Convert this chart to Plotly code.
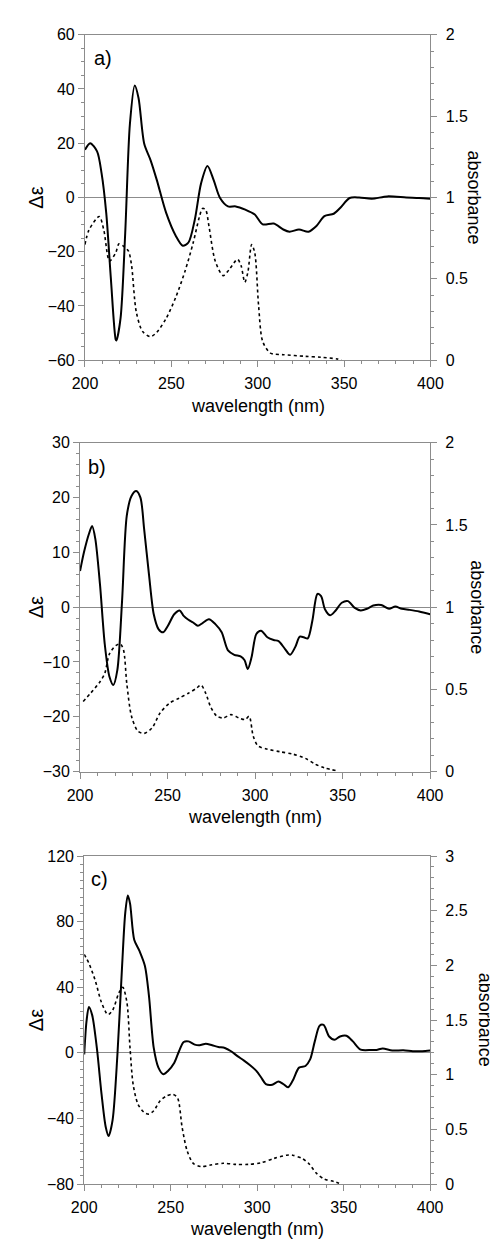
import plotly.graph_objects as go

# ---------------- data ----------------
# panel a) CD (Δε) and absorbance
wl_a_cd = [200, 203, 207, 209.6, 212.3, 215, 217.8, 218.2, 220.6, 223.3, 226, 228.8, 231, 234.3, 238,
           241.6, 247, 252.6, 256.6, 259.9, 263.6, 267.2, 270.9, 274.5, 278.2, 282.8, 287.3, 292.8,
           298.3, 302.9, 309.3, 314.8, 318.4, 323.9, 329.4, 334, 338.6, 344, 347.7, 353.2, 358.7,
           366, 375, 386, 393.4, 400]
cd_a = [17.6, 20, 17, 9, -5.7, -30, -52.4, -52.7, -44.5, -13, 27, 41.3, 36.7, 19.8, 13.7,
        6.4, -5.7, -14.2, -17.8, -16.6, -8.1, 5.2, 11.6, 6.4, -0.2, -3.3, -3.3, -4.5,
        -6.3, -9.9, -9.6, -11.8, -12.6, -11.8, -12.6, -10.5, -6.9, -6.0, -3.9, -0.2, 0,
        -0.5, 0.4, 0, -0.2, -0.5]
wl_a_abs = [200, 202.3, 208.3, 210.9, 214.2, 217.8, 219.7, 222.4, 225.2, 227, 229.7, 233.4, 238,
            241.6, 247, 252.6, 258, 262.6, 266.3, 268.1, 269.9, 271.8, 275.4, 280, 283.7, 288.3,
            290.4, 292.5, 294.3, 296.5, 298.3, 300.5, 302.9, 307.4, 314.8, 327.6, 336.7, 345.9, 348.6]
abs_a = [0.711, 0.80, 0.883, 0.80, 0.61, 0.66, 0.715, 0.70, 0.67, 0.58, 0.297, 0.176, 0.145,
         0.172, 0.257, 0.388, 0.55, 0.72, 0.883, 0.933, 0.923, 0.822, 0.61, 0.52, 0.56, 0.62,
         0.58, 0.479, 0.54, 0.711, 0.66, 0.337, 0.115, 0.044, 0.034, 0.024, 0.018, 0.008, 0.002]

# panel b)
wl_b_cd = [200, 202.3, 205.1, 206.9, 208.7, 211.4, 214.1, 216.8, 219, 221.3, 224, 226.7, 229.4,
           232.1, 234.5, 236.6, 239.4, 242.1, 244.8, 247.5, 250.2, 253.8, 256.9, 259.2, 261.9,
           264.6, 267.3, 270, 273.6, 277.3, 280.9, 284.5, 288.1, 291.7, 294, 295.8, 298, 300.7,
           303.4, 307, 310.6, 313.4, 317, 320, 322.9, 325.5, 327.8, 330.1, 332.7, 335.6, 337.7,
           339.9, 342.8, 345.8, 349.5, 353.1, 356.7, 360.3, 363.9, 367.5, 372, 376.5, 380.1,
           383.8, 388.3, 393.7, 400]
cd_b = [6.6, 10.1, 13.4, 14.8, 12.5, 4.1, -6.7, -12.7, -14.2, -11.5, 1.1, 16.7, 20.3,
        21.2, 20, 14.3, 5.9, -1.3, -4, -4.6, -3.4, -1.3, -0.6, -1.6, -2.3,
        -2.8, -3.4, -2.9, -2.2, -3.1, -4.6, -7.9, -8.7, -9, -9.7, -11.3, -9.1, -4.9,
        -4.3, -5.5, -6, -6.2, -7.6, -8.7, -7.3, -5.4, -5.5, -5.7, -2.5, 2.4, 2.0,
        -0.4, -1.5, -0.7, 0.8, 1.1, -0.1, -0.6, -0.3, 0.3, 0.4, -0.3, 0.1,
        -0.3, -0.5, -0.8, -1.3]
wl_b_abs = [201.8, 206, 211.4, 214.1, 216.8, 220.4, 223.1, 224.9, 226.7, 229.4, 233, 236.6, 241.2,
            245.7, 251.1, 256.5, 261.9, 266.4, 269.1, 271.8, 274.5, 278.2, 281.8, 286.3, 290.8,
            294.4, 296.6, 298.9, 301.6, 307, 314.3, 321.5, 328.7, 334.1, 339.5, 346.8]
abs_b = [0.426, 0.476, 0.546, 0.596, 0.716, 0.766, 0.776, 0.736, 0.536, 0.336, 0.246, 0.232, 0.266,
         0.356, 0.416, 0.446, 0.476, 0.506, 0.526, 0.476, 0.396, 0.336, 0.326, 0.346, 0.326,
         0.316, 0.336, 0.216, 0.156, 0.136, 0.12, 0.106, 0.08, 0.046, 0.022, 0.004]

# panel c)
wl_c_cd = [200, 201.3, 202.7, 204.6, 207.3, 210, 212.4, 214.1, 216.4, 219.2, 221.9, 223.7, 225.2,
           226.5, 228.9, 232, 235.1, 237.4, 240.2, 242.9, 245.7, 248.4, 252.1, 254.8, 257.5,
           260.3, 263.9, 266.7, 270.3, 274, 277.6, 281.3, 284.9, 288.6, 292.2, 295.9, 299.5,
           302.3, 305, 308.7, 312.3, 315.1, 317.8, 320.5, 324.2, 327.9, 330.6, 333.3, 336.1,
           338.4, 341.6, 344.7, 347.9, 351.6, 355.3, 359.8, 366.2, 369, 372.6, 378.1, 384.5,
           390, 395.4, 400]
cd_c = [-1, 19, 28, 23, 3, -25, -45, -50.7, -41, -1, 53, 85, 96,
        91, 69, 62, 53, 35, 3, -9, -13, -11, -6, 1, 6.6,
        7, 5, 4.6, 5.6, 4.6, 3.6, 3, 1, -2, -4.6, -7.6, -11,
        -15, -19, -19.4, -17.4, -19, -21, -17, -9, -8, -4, 7, 16.6,
        17, 10, 8, 10, 10.4, 7, 2, 1.8, 1.8, 2.6, 1.4, 1.6,
        1, 1, 1.4]
wl_c_abs = [200, 202.7, 206.4, 210, 213.7, 216.4, 220.1, 222.3, 224.7, 226.5, 228.3, 231.1, 234.7,
            237.4, 240.2, 243.8, 247.5, 251.1, 253.9, 256.6, 259.4, 263, 267.6, 273.1, 280.4,
            287.7, 295, 302.3, 309.6, 316.9, 320.5, 326, 329.7, 334.2, 338.8, 344.3, 348.9]
abs_c = [2.10, 2.02, 1.86, 1.66, 1.55, 1.59, 1.75, 1.80, 1.66, 1.24, 0.91, 0.73, 0.655,
         0.64, 0.67, 0.76, 0.805, 0.82, 0.79, 0.52, 0.31, 0.19, 0.16, 0.174, 0.19,
         0.18, 0.18, 0.195, 0.234, 0.264, 0.264, 0.234, 0.19, 0.1, 0.045, 0.024, 0.0]

panel_labels = ["a)", "b)", "c)"]
x_title = "wavelength (nm)"
y_title = "Δε"
y2_title = "absorbance"
x_ticks = [200, 250, 300, 350, 400]
cd_ranges = [(-60, 60), (-30, 30), (-80, 120)]
cd_dticks = [20, 10, 40]
cd_minor = [5, 2, 5]
abs_ranges = [(0, 2), (0, 2), (0, 3)]

# ---------------- layout (pixels) ----------------
W, H = 498, 1241
boxes = [  # left, right, top, bottom in pixels
    (67.5, 432, 19, 349),
    (62.3, 431.7, 432.7, 766),
    (66.7, 431.7, 851.7, 1184.3),
]
label_pos = [(87, 43), (80, 457), (83, 875)]
right_title_x = [477, 481, 490]

FONT = "Liberation Sans, Arial, Helvetica, sans-serif"
GRAY = "#8c8c8c"

cd_data = [(wl_a_cd, cd_a), (wl_b_cd, cd_b), (wl_c_cd, cd_c)]
abs_data = [(wl_a_abs, abs_a), (wl_b_abs, abs_b), (wl_c_abs, abs_c)]

fig = go.Figure()
layout = {}
annotations = []

for i in range(3):
    l, r, t, b = boxes[i]
    xd = [l / W, r / W]
    yd = [1 - b / H, 1 - t / H]
    xa = f"xaxis{'' if i == 0 else i + 1}"
    n_left = 2 * i + 1
    n_right = 2 * i + 2
    ya_l = f"yaxis{'' if n_left == 1 else n_left}"
    ya_r = f"yaxis{n_right}"
    xref = f"x{'' if i == 0 else i + 1}"
    yref_l = f"y{'' if n_left == 1 else n_left}"
    yref_r = f"y{n_right}"

    layout[xa] = dict(
        domain=xd, anchor=yref_l, range=[200, 400], tickvals=x_ticks,
        showline=True, linecolor=GRAY, linewidth=1, mirror=True,
        ticks="outside", ticklen=6, tickcolor=GRAY,
        minor=dict(dtick=10, ticks="outside", ticklen=3, tickcolor=GRAY),
        showgrid=False, zeroline=False, ticklabelstandoff=3,
        tickfont=dict(family=FONT, size=16, color="black"),
    )
    layout[ya_l] = dict(
        domain=yd, anchor=xref, range=list(cd_ranges[i]), dtick=cd_dticks[i],
        showline=True, linecolor=GRAY, linewidth=1,
        ticks="outside", ticklen=6, tickcolor=GRAY,
        minor=dict(dtick=cd_minor[i], ticks="outside", ticklen=3, tickcolor=GRAY),
        showgrid=False, zeroline=True, zerolinecolor=GRAY, zerolinewidth=1,
        tickfont=dict(family=FONT, size=16, color="black"),
    )
    layout[ya_r] = dict(
        domain=yd, anchor=xref, overlaying=yref_l, side="right",
        range=list(abs_ranges[i]), dtick=0.5,
        showline=True, linecolor=GRAY, linewidth=1,
        ticks="outside", ticklen=6, tickcolor=GRAY,
        minor=dict(dtick=0.1, ticks="outside", ticklen=3, tickcolor=GRAY),
        showgrid=False, zeroline=False, ticklabelstandoff=5,
        tickfont=dict(family=FONT, size=16, color="black"),
    )

    wl, cd = cd_data[i]
    fig.add_trace(go.Scatter(x=wl, y=cd, xaxis=xref, yaxis=yref_l, mode="lines",
                             line=dict(color="black", width=2, shape="spline", smoothing=0.8),
                             showlegend=False, hoverinfo="skip"))
    wl2, ab = abs_data[i]
    fig.add_trace(go.Scatter(x=wl2, y=ab, xaxis=xref, yaxis=yref_r, mode="lines",
                             line=dict(color="black", width=1.6, dash="3px,3px",
                                       shape="spline", smoothing=0.8),
                             showlegend=False, hoverinfo="skip"))

    # titles as annotations
    annotations.append(dict(text=x_title, x=(l + r) / 2 / W, y=1 - (b + 46) / H,
                            xref="paper", yref="paper", showarrow=False,
                            font=dict(family=FONT, size=18, color="black"),
                            xanchor="center", yanchor="middle"))
    annotations.append(dict(text=y_title, x=16 / W, y=1 - (t + b) / 2 / H,
                            xref="paper", yref="paper", showarrow=False, textangle=-90,
                            font=dict(family=FONT, size=20, color="black"),
                            xanchor="center", yanchor="middle"))
    annotations.append(dict(text=y2_title, x=right_title_x[i] / W, y=1 - (t + b) / 2 / H,
                            xref="paper", yref="paper", showarrow=False, textangle=90,
                            font=dict(family=FONT, size=18, color="black"),
                            xanchor="center", yanchor="middle"))
    lx, ly = label_pos[i]
    annotations.append(dict(text=panel_labels[i], x=lx / W, y=1 - ly / H,
                            xref="paper", yref="paper", showarrow=False,
                            font=dict(family=FONT, size=20, color="black"),
                            xanchor="center", yanchor="middle"))

fig.update_layout(
    width=W, height=H, margin=dict(l=0, r=0, t=0, b=0),
    paper_bgcolor="white", plot_bgcolor="white",
    annotations=annotations, showlegend=False,
    **layout,
)

fig.write_html("out.html")
